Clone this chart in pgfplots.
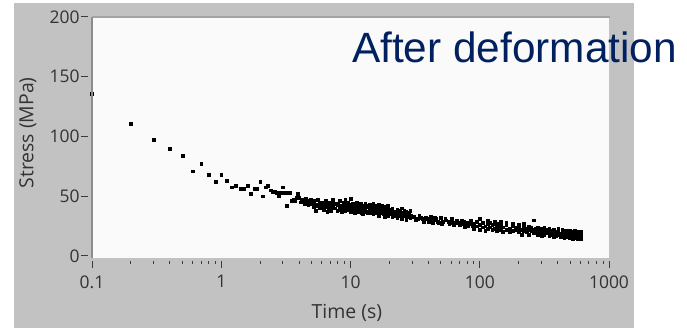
\documentclass[border=0pt]{standalone}
\usepackage{pgfplots}
\pgfplotsset{compat=1.18}
\usepackage{pgfplotstable}
\usepackage{fontspec}
\setmainfont{Open Sans}
\newfontfamily\arialfont{Liberation Sans}
\definecolor{graybg}{RGB}{194,194,194}
\definecolor{plotbg}{RGB}{250,250,250}
\definecolor{titleblue}{RGB}{0,32,96}
\definecolor{tickgray}{RGB}{60,60,60}
\definecolor{framegray}{RGB}{140,140,140}
\pgfplotstableread[row sep=\\]{
t v\\
0.1 136\\ 0.2 111\\ 0.3 97.5\\ 0.4 90\\ 0.5 84\\ 0.6 71\\ 0.7 77\\ 0.8 68\\ 0.9 62\\ 1.0 68\\
1.1 63\\ 1.2 57.5\\ 1.3 59\\ 1.4 56\\ 1.5 56\\ 1.6 59\\ 1.7 52\\ 1.8 56\\ 1.9 56\\ 2.0 62\\
2.1 50\\ 2.2 57.5\\ 2.3 59\\ 2.4 55\\ 2.5 54\\ 2.6 54\\ 2.7 53\\ 2.8 50\\ 2.9 53\\ 3.0 57.5\\
3.1 53\\ 3.2 42\\ 3.3 53\\ 3.4 53\\ 3.5 46\\ 3.6 47\\ 3.7 46\\ 3.8 49\\ 3.9 52\\ 4.0 49\\
4.1 45\\ 4.2 47\\ 4.3 47\\ 4.4 44\\ 4.5 48\\ 4.6 46\\ 4.7 43\\ 4.8 45\\ 4.9 47\\ 5.0 44\\
5.2 46\\ 5.2 41\\ 5.4 43\\ 5.4 38\\ 5.6 47\\ 5.6 42\\ 5.8 44\\ 5.8 40\\ 6.0 42\\ 6.0 45\\
6.2 39\\ 6.2 44\\ 6.4 46\\ 6.4 41\\ 6.6 43\\ 6.6 37\\ 6.8 45\\ 6.8 40\\ 7.0 41\\ 7.0 44\\ 7.0 38\\
7.3 47\\ 7.3 42\\ 7.6 40\\ 7.6 44\\ 7.9 43\\ 7.9 38\\ 8.2 46\\ 8.2 41\\ 8.2 39\\ 8.5 42\\ 8.5 37\\
8.8 45\\ 8.8 40\\ 9.1 43\\ 9.1 38\\ 9.1 47\\ 9.4 41\\ 9.4 44\\ 9.7 39\\ 9.7 43\\
10 48\\ 10 42\\ 10 37\\ 10.4 44\\ 10.4 40\\ 10.8 41\\ 10.8 36\\ 11.2 45\\ 11.2 39\\
11.6 43\\ 11.6 37\\ 11.6 41\\ 12 40\\ 12 44\\ 12.5 38\\ 12.5 42\\ 12.5 35\\ 13 44\\ 13 39\\
13.5 41\\ 13.5 36\\ 14 43\\ 14 38\\ 14 40\\ 14.5 37\\ 14.5 42\\ 15 40\\ 15 35\\ 15 44\\
15.5 39\\ 15.5 42\\ 16 36\\ 16 41\\ 16.5 43\\ 16.5 38\\ 16.5 34\\ 17 40\\ 17 36\\ 17.5 38\\ 17.5 42\\
18 35\\ 18 39\\ 18 41\\ 18.5 37\\ 18.5 33\\ 19 40\\ 19 36\\ 19.5 38\\ 19.5 34\\ 19.5 42\\
20 36\\ 20 39\\ 21 33\\ 21 38\\ 21 40\\ 22 37\\ 22 35\\ 23 39\\ 23 32\\ 23 36\\ 24 34\\ 24 38\\
25 36\\ 25 31\\ 25 40\\ 26 35\\ 26 38\\ 27 33\\ 27 37\\ 27 30\\ 28 36\\ 28 34\\ 29 32\\ 29 38\\
8.0 44\\ 8.6 39\\ 9.0 41\\ 9.6 45\\ 10.2 39\\ 10.6 43\\ 11.0 38\\ 11.4 42\\ 11.8 39\\ 12.2 36\\
12.8 41\\ 13.2 37\\ 13.8 42\\ 14.2 36\\ 14.8 39\\ 15.2 37\\ 15.8 40\\ 16.2 38\\ 16.8 37\\ 17.2 39\\
17.8 36\\ 18.2 38\\ 18.8 35\\ 19.2 37\\ 19.8 35\\ 20.5 37\\ 21.5 36\\ 22.5 34\\ 23.5 37\\ 24.5 35\\
25.5 34\\ 26.5 36\\ 27.5 33\\ 28.5 35\\ 29.5 34\\
31 33\\ 32 30\\ 34 34\\ 36 31\\ 38 32\\ 40 29\\ 42 33\\ 44 30\\ 46 31\\ 48 28\\ 50 32\\ 52 29\\
55 30\\ 58 27\\ 61 31\\ 64 28\\ 67 29\\ 70 26\\ 73 30\\ 76 24\\ 79 28\\ 82 27\\ 85 30\\ 88 25\\
33 31\\ 35 32\\ 37 29\\ 39 31\\ 41 30\\ 43 28\\ 45 32\\ 47 29\\ 51 27\\ 54 31\\ 57 29\\ 60 28\\
63 26\\ 66 30\\ 69 28\\ 72 27\\ 75 29\\ 78 26\\ 81 25\\ 84 28\\ 87 27\\
90 27\\ 90 23\\ 95 29\\ 95 25\\ 100 26\\ 100 22\\ 100 31\\ 105 28\\ 105 24\\ 110 25\\ 110 21\\
115 27\\ 115 23\\ 115 30\\ 120 24\\ 120 28\\ 125 26\\ 125 22\\ 130 23\\ 130 27\\ 130 29\\
135 25\\ 135 21\\ 140 27\\ 140 24\\ 145 22\\ 145 26\\ 145 29\\ 150 24\\ 150 20\\
160 26\\ 160 22\\ 160 28\\ 170 23\\ 170 20\\ 180 25\\ 180 21\\ 180 27\\ 190 22\\ 190 24\\
200 20\\ 200 26\\ 200 23\\ 210 22\\ 210 18\\ 220 24\\ 220 21\\ 220 27\\ 230 20\\ 230 23\\
240 22\\ 240 18\\ 240 25\\ 250 21\\ 250 24\\ 260 19\\ 260 22\\ 260 30\\ 270 23\\ 270 20\\
280 18\\ 280 21\\ 280 24\\ 290 22\\ 290 19\\ 300 20\\ 300 23\\ 300 17\\ 315 21\\ 315 18\\ 315 24\\
330 19\\ 330 22\\ 345 17\\ 345 20\\ 345 23\\ 360 21\\ 360 18\\ 375 19\\ 375 16\\ 375 22\\
390 20\\ 390 17\\ 405 18\\ 405 21\\ 405 23\\ 420 16\\ 420 19\\ 435 20\\ 435 17\\ 435 22\\
450 18\\ 450 15\\ 465 19\\ 465 21\\ 465 16\\ 480 17\\ 480 20\\ 495 15\\ 495 18\\ 495 21\\
510 19\\ 510 16\\ 525 17\\ 525 20\\ 525 14\\ 540 18\\ 540 15\\ 540 21\\ 555 16\\ 555 19\\
570 18\\ 570 14\\ 570 20\\ 585 17\\ 585 15\\ 585 19\\ 600 16\\ 600 18\\ 600 20\\ 600 14\\
}\stressdata
\begin{document}
\begin{tikzpicture}[x=1bp,y=1bp]
\fill[white] (0,0) rectangle (687,328);
\fill[graybg] (14,0) rectangle (634,325);
\begin{axis}[
  at={(92bp,70bp)}, anchor=south west,
  scale only axis, width=517bp, height=241bp,
  xmode=log, xmin=0.1, xmax=1000,
  ymin=-1.7, ymax=200,
  axis background/.style={fill=plotbg},
  axis line style={draw=none},
  xtick={0.1,1,10,100,1000},
  xticklabels={0.1,1,10,100,1000},
  ytick={0,50,100,150,200},
  minor tick num=0,
  log ticks with fixed point,
  tick align=outside,
  major tick length=7bp,
  xtick style={draw=tickgray, line width=1bp, yshift=-3bp},
  ytick style={draw=tickgray, line width=1bp, xshift=-4bp},
  xtick pos=bottom, ytick pos=left,
  /pgf/number format/assume math mode=true,
  tick label style={font=\fontsize{17.5}{19}\selectfont, text=black!80},
  xticklabel style={yshift=-7bp},
  yticklabel style={xshift=-2bp},
  xlabel={Time (s)},
  ylabel={Stress (MPa)},
  xlabel style={font=\fontsize{19.5}{21}\selectfont, text=black!80, at={(axis description cs:0.493,0)}, anchor=north, inner sep=0pt, yshift=-46bp},
  ylabel style={font=\fontsize{19.5}{21}\selectfont, text=black!80, at={(axis description cs:-0.124,0.519)}, anchor=center, inner sep=0pt},
]
\addplot[only marks, mark=square*, mark size=1.4bp, black] table {\stressdata};
\end{axis}
\draw[framegray, line width=1.2bp] (92,70) -- (92,311);
\draw[framegray!80, line width=2bp] (92,311) -- (610,311);
\node[anchor=base west, inner sep=0pt, text=titleblue, font=\arialfont\fontsize{42.5}{48}\selectfont] at (352,266) {After deformation};
\end{tikzpicture}
\end{document}
